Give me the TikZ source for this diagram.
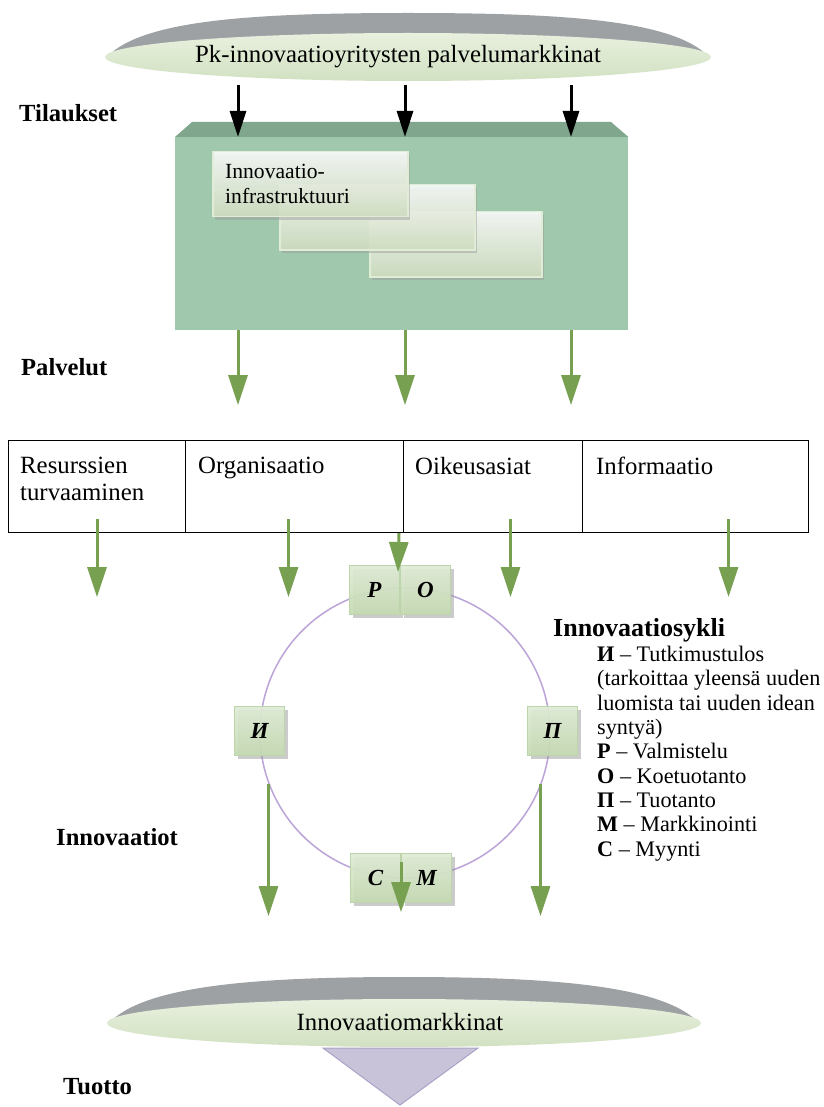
\documentclass[tikz,border=0pt]{standalone}
\usepackage{fontspec}
\setmainfont{Liberation Serif}
\usetikzlibrary{arrows.meta,shadows,positioning,calc}

\definecolor{boxgreen}{HTML}{A0C8AC}
\definecolor{boxtop}{HTML}{80A68E}
\definecolor{arrowgreen}{HTML}{77A051}
\definecolor{discgrey}{HTML}{9DA1A4}
\definecolor{disclight}{HTML}{E8F0DE}
\definecolor{discdark}{HTML}{D2E1C2}
\definecolor{cyclepurple}{HTML}{BBA4D8}
\definecolor{tilelight}{HTML}{E0ECD6}
\definecolor{tiledark}{HTML}{C4DAB1}
\definecolor{tileedge}{HTML}{BDD5AA}
\definecolor{wedge}{HTML}{C9C3DA}
\definecolor{wedgeedge}{HTML}{AAA2C6}

\begin{document}
\begin{tikzpicture}[x=1pt,y=-1pt]
\tikzstyle{every node}+=[inner sep=0pt]
\tikzstyle{garrow}=[arrowgreen, line width=3pt, -{Triangle[width=19pt,length=30pt]}]
\tikzstyle{karrow}=[black, line width=3pt, -{Triangle[width=16pt,length=26pt]}]
\tikzstyle{side}=[anchor=west, font=\bfseries\fontsize{24.6}{28}\selectfont]
\tikzstyle{cell}=[draw, line width=1pt, anchor=north west, minimum height=92pt]
\tikzstyle{celltext}=[anchor=north west, align=left, font=\fontsize{24.8}{27}\selectfont]
\tikzstyle{plate}=[draw=tilelight, line width=1.5pt, top color=white, bottom color=discdark, fill opacity=0.85, anchor=north west, drop shadow={shadow xshift=2pt, shadow yshift=-3pt, fill=black!40, opacity=0.45}]
\tikzstyle{tile}=[draw=tileedge, line width=1pt, top color=tilelight, bottom color=tiledark, fill opacity=0.92, text opacity=1, minimum width=50pt, minimum height=49pt, font=\bfseries\itshape\fontsize{23}{23}\selectfont, drop shadow={shadow xshift=3pt, shadow yshift=-3pt, fill=black!40, opacity=0.5}]

\useasboundingbox (0,0) rectangle (823,1107);
\fill[white] (0,0) rectangle (823,1107);

% upper market disc
\fill[discgrey] (107,57) .. controls (142,20) and (252,13) .. (408,13) .. controls (564,13) and (674,20) .. (709,57) -- cycle;
\shade[top color=disclight, bottom color=discdark] (408,57) ellipse [x radius=303, y radius=24];
\node[font=\fontsize{24.8}{28}\selectfont] (supply) at (398,57) {Pk-innovaatioyritysten palvelumarkkinat};

\node[side] (orders) at (19,113) {Tilaukset};
\node[side] (services) at (21,367) {Palvelut};
\node[side] (innov) at (56,837) {Innovaatiot};
\node[side] (yield) at (63,1087) {Tuotto};

% infrastructure block
\node[fill=boxgreen, minimum width=453pt, minimum height=193pt, anchor=north west] (infra) at (175,137) {};
\fill[boxtop] (infra.north west) -- ++(17,-15) -- ++(419,0) -- (infra.north east) -- cycle;
\node[plate, minimum width=172pt, minimum height=65pt] (plate3) at (369,211) {};
\node[plate, minimum width=195pt, minimum height=65pt] (plate2) at (279,184) {};
\node[plate, minimum width=195pt, minimum height=65pt] (plate1) at (212,151) {};
\node[anchor=north west, align=left, font=\fontsize{21.6}{25}\selectfont] (infratext) at ([xshift=13pt, yshift=-13pt]plate1.north west) {Innovaatio-\\infrastruktuuri};

% orders in, services out
\foreach \x [count=\i] in {238,405,571} {
  \coordinate (o\i) at (\x,85);
  \coordinate (p\i) at (\x,405);
  \draw[karrow] (o\i) -- (o\i |- infra.north);
  \draw[garrow] (p\i |- infra.south) -- (p\i);
}

% service areas
\node[cell, minimum width=177pt] (res) at (8,440) {};
\node[cell, minimum width=218pt] (org) at (185,440) {};
\node[cell, minimum width=179pt] (law) at (403,440) {};
\node[cell, minimum width=226pt] (info) at (582,440) {};
\node[celltext] (restext) at ([xshift=12pt, yshift=-17pt]res.north west) {Resurssien\\turvaaminen};
\node[celltext] (orgtext) at ([xshift=13pt, yshift=-17pt]org.north west) {Organisaatio};
\node[celltext] (lawtext) at ([xshift=12pt, yshift=-17pt]law.north west) {Oikeusasiat};
\node[celltext] (infotext) at ([xshift=14pt, yshift=-17pt]info.north west) {Informaatio};

\draw[garrow] ($(res.south)+(0,-14)$) -- ++(0,78);
\draw[garrow] ($(org.south)+(-6,-14)$) -- ++(0,78);
\draw[garrow] ($(law.south)+(17.5,-14)$) -- ++(0,78);
\draw[garrow] ($(info.south)+(33,-14)$) -- ++(0,78);

% innovation cycle
\coordinate (hub) at (405,733);
\draw[cyclepurple, line width=1.5pt] (hub) circle [radius=145];
\node[tile, anchor=north west] (tP) at (349,565) {Р};
\node[tile, right=0pt of tP] (tO) {О};
\node[tile, anchor=north west] (tI) at (234,706) {И};
\node[tile, anchor=north west] (tPi) at (527,706) {П};
\node[tile, anchor=north west] (tS) at (350,853) {С};
\node[tile, right=0pt of tS] (tM) {М};

\draw[garrow] ($(org.south east)+(-5,0)$) -- ($(tP.north east)+(-2,7)$);
\draw[garrow] ($(tI.south)+(9,28)$) -- ++(0,132);
\draw[garrow] ($(tPi.south)+(-12,28)$) -- ++(0,132);
\draw[garrow] ($(tS.north east)+(0,9)$) -- ++(0,50);

\node[anchor=base west, font=\bfseries\fontsize{26}{30}\selectfont] (cyclehead) at (553,636) {Innovaatiosykli};
\node[anchor=north west, align=left, font=\fontsize{22.2}{24.3}\selectfont] (legend) at (597,646) {\textbf{И} – Tutkimustulos\\(tarkoittaa yleensä uuden\\luomista tai uuden idean\\syntyä)\\\textbf{Р} – Valmistelu\\\textbf{О} – Koetuotanto\\\textbf{П} – Tuotanto\\\textbf{М} – Markkinointi\\\textbf{С} – Myynti};

% lower market disc and yield wedge
\fill[discgrey] (109,1023) .. controls (144,986) and (252,977) .. (404,977) .. controls (556,977) and (664,986) .. (699,1023) -- cycle;
\filldraw[wedgeedge, fill=wedge, line width=1pt] (323,1048) -- (478,1048) -- (400,1105) -- cycle;
\shade[top color=disclight, bottom color=discdark] (404,1023) ellipse [x radius=297, y radius=24];
\node[font=\fontsize{24.8}{28}\selectfont] (market) at (400,1022) {Innovaatiomarkkinat};
\end{tikzpicture}
\end{document}
